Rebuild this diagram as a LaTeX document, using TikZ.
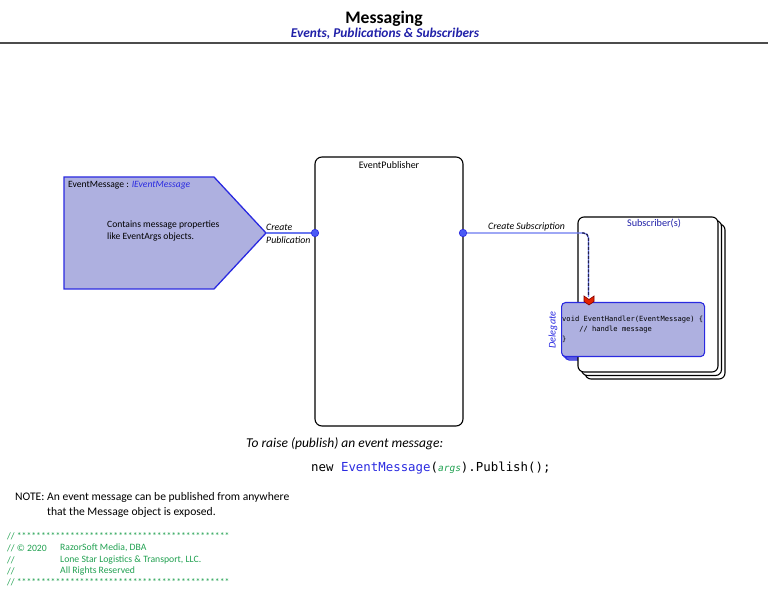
\documentclass[tikz,border=0pt]{standalone}
\usepackage{fontspec}
\setmainfont{Carlito}
\setmonofont{DejaVu Sans Mono}
\begin{document}
\definecolor{lav}{HTML}{AEB0E0}
\definecolor{bblue}{HTML}{2A2AE0}
\definecolor{lblue}{HTML}{6A78F0}
\definecolor{dotblue}{HTML}{4A5AF5}
\definecolor{tblue}{HTML}{2020A8}
\definecolor{cgreen}{HTML}{20A050}
\definecolor{navy}{HTML}{202050}
\begin{tikzpicture}[x=1pt,y=-1pt,
  txt/.style={inner sep=0pt,font=\fontsize{8.5}{10}\selectfont},
  port/.style={circle,fill=dotblue,draw=bblue,line width=0.6pt,minimum size=7.5pt,inner sep=0pt},
  conn/.style={draw=lblue,line width=1.2pt},
  subbox/.style={draw=black,line width=1.1pt,fill=white,rounded corners=6pt},
  delbox/.style={draw=bblue,line width=1.1pt,fill=lav,rounded corners=4pt},
  lbl/.style={txt,anchor=west,font=\fontsize{9.8}{11}\itshape\selectfont},
  green/.style={txt,anchor=west,text=cgreen,font=\fontsize{9.7}{11}\selectfont}]
\useasboundingbox (0,0) rectangle (768,593);
% title
\node[inner sep=0pt,font=\fontsize{17.6}{19}\bfseries\selectfont] (title) at (384,19) {Messaging};
\node[inner sep=0pt,text=tblue,font=\fontsize{13.4}{15}\bfseries\itshape\selectfont] (subtitle) at (385,34) {Events, Publications \& Subscribers};
\draw[line width=1.6pt,draw=black!70] (0,43) -- (768,43);
% event message pentagon
\draw[draw=bblue,line width=1.3pt,fill=lav] (64,177) -- (214,177) -- (266,233) -- (214,289) -- (64,289) -- cycle;
\coordinate (emtip) at (266,233);
\node[txt,anchor=west,font=\fontsize{9.6}{11}\selectfont] (emlabel) at (68,185) {EventMessage : \textcolor{bblue}{\itshape IEventMessage}};
\node[txt,anchor=north west,align=left,font=\fontsize{9.6}{12}\selectfont] (emtext) at (107,221) {Contains message properties\\like EventArgs objects.};
% publisher
\draw[line width=1.1pt,rounded corners=7pt] (315,157) rectangle (463,426);
\node[txt,font=\fontsize{10}{11}\selectfont] (pubtitle) at (389,165) {EventPublisher};
\node[port] (pin) at (315,233) {};
\node[port] (pout) at (463,233) {};
\draw[conn] (emtip) -- (pin);
\node[lbl] (cp1) at (266,227) {Create};
\node[lbl] (cp2) at (266,240) {Publication};
% subscribers: delegate back copies
\draw[delbox] (565,306) rectangle (708,360);
\draw[delbox] (563,304) rectangle (706,358);
\draw[subbox] (585,224) rectangle (725,379);
\draw[subbox] (581.5,220.5) rectangle (721.5,375.5);
\draw[subbox] (578,217) rectangle (718,372);
\node[txt,text=tblue,font=\fontsize{10.2}{11}\selectfont] (subtitle2) at (654,223) {Subscriber(s)};
% delegate front
\node[delbox,minimum width=143pt,minimum height=54pt,anchor=north west,inner sep=0pt] (del) at (561,302) {};
\node[txt,anchor=north west,align=left,font=\fontsize{7.1}{10}\ttfamily\selectfont] (code) at (562,316) {void EventHandler(EventMessage) \{\\\ \ \ \ // handle message\\\}};
\node[txt,rotate=90,text=bblue,font=\fontsize{10.2}{11}\itshape\selectfont] (dlabel) at (553,330) {Delegate};
% subscription connector
\draw[conn,rounded corners=5pt] (pout) -- (588.5,233) -- (588.5,297);
\draw[draw=navy,line width=1.3pt,dash pattern=on 3pt off 1.5pt,rounded corners=5pt] (582,233) -- (588.5,233) -- (588.5,296);
\node[lbl] (cs) at (488,227) {Create Subscription};
\draw[fill=red!70!orange!90!black,draw=red!50!black,line width=0.6pt] (584,296) -- (589,299.5) -- (594,296) -- (594,301.5) -- (589,305) -- (584,301.5) -- cycle;
% bottom text
\node[txt,anchor=west,font=\fontsize{13.5}{15}\itshape\selectfont] (raise) at (246,444) {To raise (publish) an event message:};
\node[txt,anchor=west,font=\fontsize{12.4}{14}\ttfamily\selectfont] (codeln) at (311,468) {new \textcolor{bblue}{EventMessage}(\textcolor{cgreen}{\fontsize{9.5}{10}\itshape\selectfont args}).Publish();};
\node[txt,anchor=west,font=\fontsize{11.6}{13}\selectfont] (note1) at (15,497) {NOTE: An event message can be published from anywhere};
\node[txt,anchor=west,font=\fontsize{11.6}{13}\selectfont] (note2) at (47,512) {that the Message object is exposed.};
% copyright
\node[green] (c1) at (7,536) {// ********************************************};
\node[green] (c2) at (7,548) {// © 2020};
\node[green] (c2b) at (60,548) {RazorSoft Media, DBA};
\node[green] (c3) at (7,560) {//};
\node[green] (c3b) at (60,560) {Lone Star Logistics \& Transport, LLC.};
\node[green] (c4) at (7,571) {//};
\node[green] (c4b) at (60,571) {All Rights Reserved};
\node[green] (c5) at (7,582) {// ********************************************};
\end{tikzpicture}
\end{document}
